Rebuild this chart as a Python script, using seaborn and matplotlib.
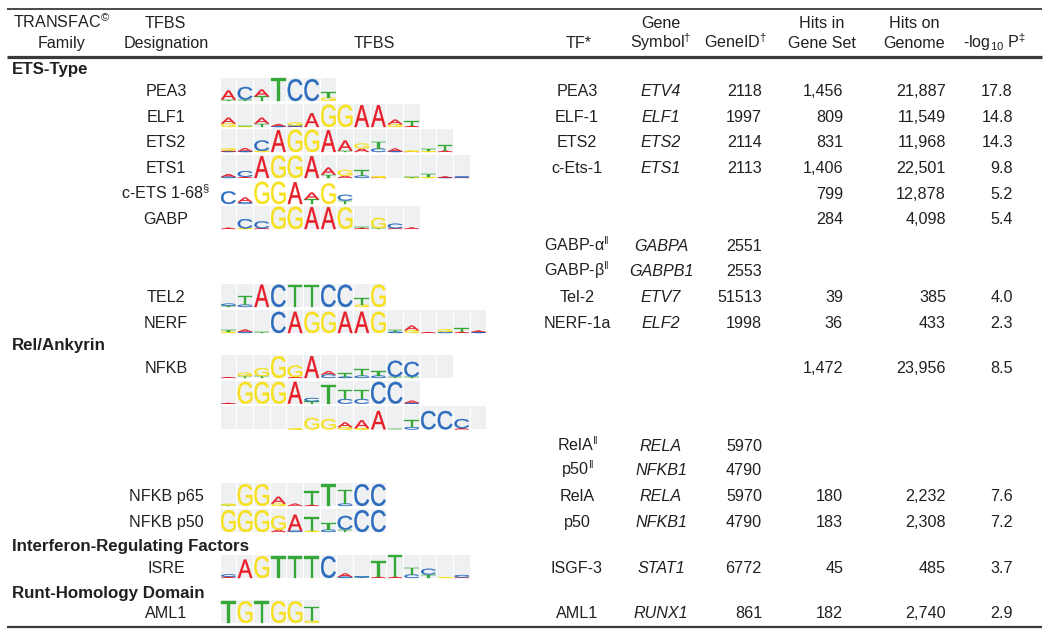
import matplotlib
matplotlib.use("Agg")
import matplotlib.pyplot as plt
import seaborn as sns
from matplotlib.font_manager import FontProperties
from matplotlib.textpath import TextPath
from matplotlib.patches import PathPatch, Rectangle
from matplotlib.transforms import Affine2D

# ---- table data (one entry per table row, family header rows included) ----
family_col = ["ETS-Type", "", "", "", "", "", "", "", "", "", "",
              "Rel/Ankyrin", "", "", "", "", "",
              "Interferon-Regulating Factors", "",
              "Runt-Homology Domain", ""]
designation_col = ["", "PEA3", "ELF1", "ETS2", "ETS1", "c-ETS 1-68", "GABP", "", "", "TEL2", "NERF",
                   "", "NFKB", "", "", "NFKB p65", "NFKB p50",
                   "", "ISRE",
                   "", "AML1"]
designation_sup = ["", "", "", "", "", "§", "", "", "", "", "",
                   "", "", "", "", "", "", "", "", "", ""]
tf_col = ["", "PEA3", "ELF-1", "ETS2", "c-Ets-1", "", "", "GABP-α", "GABP-β", "Tel-2", "NERF-1a",
          "", "", "RelA", "p50", "RelA", "p50",
          "", "ISGF-3",
          "", "AML1"]
tf_sup = ["", "", "", "", "", "", "", "ǁ", "ǁ", "", "",
          "", "", "ǁ", "ǁ", "", "", "", "", "", ""]
symbol_col = ["", "ETV4", "ELF1", "ETS2", "ETS1", "", "", "GABPA", "GABPB1", "ETV7", "ELF2",
              "", "", "RELA", "NFKB1", "RELA", "NFKB1",
              "", "STAT1",
              "", "RUNX1"]
geneid_col = [None, 2118, 1997, 2114, 2113, None, None, 2551, 2553, 51513, 1998,
              None, None, 5970, 4790, 5970, 4790,
              None, 6772,
              None, 861]
hits_gene_set = [None, 1456, 809, 831, 1406, 799, 284, None, None, 39, 36,
                 None, 1472, None, None, 180, 183,
                 None, 45,
                 None, 182]
hits_genome = [None, 21887, 11549, 11968, 22501, 12878, 4098, None, None, 385, 433,
               None, 23956, None, None, 2232, 2308,
               None, 485,
               None, 2740]
neg_log_p = [None, 17.8, 14.8, 14.3, 9.8, 5.2, 5.4, None, None, 4.0, 2.3,
             None, 8.5, None, None, 7.6, 7.2,
             None, 3.7,
             None, 2.9]

# ---- sequence logos: each position lists letter + height (% of full column) ----
logos = {
    "PEA3": [["T6 A40", "T6 C55", "T20 A30", "T98", "C95", "C95", "G15 T22"]],
    "ELF1": [["G15 A25", "G3 T3", "T15 A25", "C3 A10", "A3 C4 G12", "A60", "G97", "G97",
              "A95", "A95", "G12 A20", "A5 T20"]],
    "ETS2": [["A4 C3 G8", "C3 A14", "G5 C45", "A95", "G97", "G97", "A95", "T5 A45",
              "A15 G22", "C15 T30", "C3 A12", "A2 G3", "G3 T10", "A6 T25"]],
    "ETS1": [["C5 A12", "A5 C25", "A95", "G97", "G97", "A95", "T15 A30", "A10 G25",
              "C10 T25", "A2 G5", "", "G2 T4", "G3 T15", "C2 A4", "A2 C5"]],
    "c-ETS 1-68": [["C55", "C8 A20", "G97", "G97", "A95", "T20 A30", "G90", "T15 C25"]],
    "GABP": [["A5", "G3 C40", "A3 C30", "G97", "G97", "A95", "A95", "G95", "A3 T4",
              "T3 G45", "A3 C20", "A6"]],
    "TEL2": [["C8 T6", "C10 T40", "A97", "C97", "T97", "T97", "C97", "C97", "G10 T28", "G97"]],
    "NERF": [["G5 T10", "C5 A10", "T3", "C92", "A92", "G92", "G92", "A92", "A92", "G92",
              "C5 T10", "G12 A20", "A3", "C5 G10", "A5 T15", "C4 A6"]],
    "NFKB": [["A3", "T8 G15", "T8 G35", "G95", "A4 G50", "A95", "C15 A15", "C5 T15",
              "C10 T30", "C10 T20", "T5 C70", "T5 C65", "", ""],
             ["A3", "G95", "G95", "G95", "A95", "T10 C15", "T80", "C20 T40", "C20 T40",
              "C95", "C95", "C3 A10"],
             ["", "", "", "", "G3", "G50", "G45", "G10 A20", "G5 A35", "A80", "T3",
              "C10 T30", "C80", "C80", "A5 C40", ""]],
    "NFKB p65": [["T3 G6", "G95", "G95", "G10 A30", "A10", "A5 T60", "T95", "C10 T60",
                  "C95", "C95"]],
    "NFKB p50": [["G95", "G95", "G95", "A10 G60", "C5 A70", "G5 T60", "C10 T30", "T10 C60",
                  "C95", "C95"]],
    "ISRE": [["A5 C10", "A80", "G95", "T95", "T95", "T95", "C95", "C5 A15", "T3 C5",
              "A5 T70", "A5 T95", "C15 T30", "T15 C25", "G3", "A3 C10"]],
    "AML1": [["T95", "G95", "T95", "G95", "G95", "G10 T60"]],
}
no_background = ["c-ETS 1-68"]
base_colors = {"A": "#e81c26", "C": "#2a6bbd", "G": "#f7e11e", "T": "#35a838"}

# ---- layout (pixel space of the 1050 x 634 image) ----
row_y = [68, 90, 116, 141, 167, 193, 218, 245, 270, 296, 322,
         344, 367, 445, 469, 495, 521, 545, 567, 592, 612]
logo_pitch = 25.7
col_w = 16.67
box_h = 23.0
logo_x0 = 220.5

sns.set_theme(style="white")
plt.rcParams["font.family"] = ["Liberation Sans", "DejaVu Sans"]
plt.rcParams["mathtext.fontset"] = "custom"
plt.rcParams["mathtext.rm"] = "Liberation Sans"
plt.rcParams["mathtext.it"] = "Liberation Sans:italic"
plt.rcParams["mathtext.bf"] = "Liberation Sans:bold"
plt.rcParams["mathtext.fallback"] = "stix"

ink = "#231f20"
fs = 11.6

fig = plt.figure(figsize=(10.5, 6.34), dpi=100)
ax = fig.add_axes([0, 0, 1, 1])
ax.set_xlim(0, 1050)
ax.set_ylim(634, 0)
ax.axis("off")


def sup(s):
    return r"$^{\mathrm{" + s + "}}$" if s else ""


def put(x, y, s, ha="center", **kw):
    # y is the vertical middle of capital letters; place text by its baseline
    ax.text(x, y + 5.6, s, ha=ha, va="baseline", fontsize=kw.pop("size", fs),
            color=ink, **kw)


glyph_font = FontProperties(family="Liberation Sans")
glyphs = {b: TextPath((0, 0), b, size=100, prop=glyph_font) for b in "ACGT"}


def draw_letter(base, x, y_bottom, w, h):
    p = glyphs[base]
    ext = p.get_extents()
    t = (Affine2D().translate(-ext.x0, -ext.y0)
         .scale(w / ext.width, -h / ext.height)
         .translate(x, y_bottom))
    ax.add_patch(PathPatch(t.transform_path(p), fc=base_colors[base],
                           ec=base_colors[base], lw=0.25))


def draw_logo(positions, yc, background=True):
    top = yc - box_h / 2
    for i, pos in enumerate(positions):
        x = logo_x0 + i * col_w
        if background:
            ax.add_patch(Rectangle((x, top), col_w - 0.9, box_h, fc="#eef0f2", ec="none"))
        stack = sorted(((tok[0], int(tok[1:]) / 100) for tok in pos.split()), key=lambda t: t[1])
        y = top + box_h
        for base, frac in stack:
            h = frac * box_h
            draw_letter(base, x + 0.6, y, col_w - 2.1, h)
            y -= h


# ---- rules ----
ax.plot([7, 1042], [9, 9], color="#3a3a3a", lw=1.3, solid_capstyle="butt")
ax.plot([7, 1042], [57, 57], color="#3a3a3a", lw=2.3, solid_capstyle="butt")
ax.plot([7, 1042], [627, 627], color="#3a3a3a", lw=1.6, solid_capstyle="butt")

# ---- header ----
put(62, 22, "TRANSFAC" + sup("©"))
put(62, 42, "Family")
put(165, 22, "TFBS")
put(166, 42, "Designation")
put(374, 42, "TFBS")
put(579, 42, "TF*")
put(661, 22, "Gene")
put(661, 42, "Symbol" + sup("†"))
put(736, 42, "GeneID" + sup("†"))
put(822, 22, "Hits in")
put(822, 42, "Gene Set")
put(914, 22, "Hits on")
put(914, 42, "Genome")
put(994, 42, r"-log$_{\mathrm{10}}$ P" + sup("‡"))

# ---- body ----
for i, y in enumerate(row_y):
    if family_col[i]:
        put(12, y, family_col[i], ha="left", fontweight="bold", size=12.2)
        continue
    d = designation_col[i]
    if d:
        put(166, y, d + sup(designation_sup[i]))
        for k, positions in enumerate(logos[d]):
            draw_logo(positions, y - 0.5 + k * logo_pitch, d not in no_background)
    if tf_col[i]:
        put(577, y, tf_col[i] + sup(tf_sup[i]))
    if symbol_col[i]:
        put(661, y, symbol_col[i], style="italic")
    if geneid_col[i] is not None:
        put(762, y, str(geneid_col[i]), ha="right")
    if hits_gene_set[i] is not None:
        put(843, y, f"{hits_gene_set[i]:,}", ha="right")
    if hits_genome[i] is not None:
        put(946, y, f"{hits_genome[i]:,}", ha="right")
    if neg_log_p[i] is not None:
        put(1013, y, f"{neg_log_p[i]:.1f}", ha="right")

fig.savefig("out.png", dpi=100)
